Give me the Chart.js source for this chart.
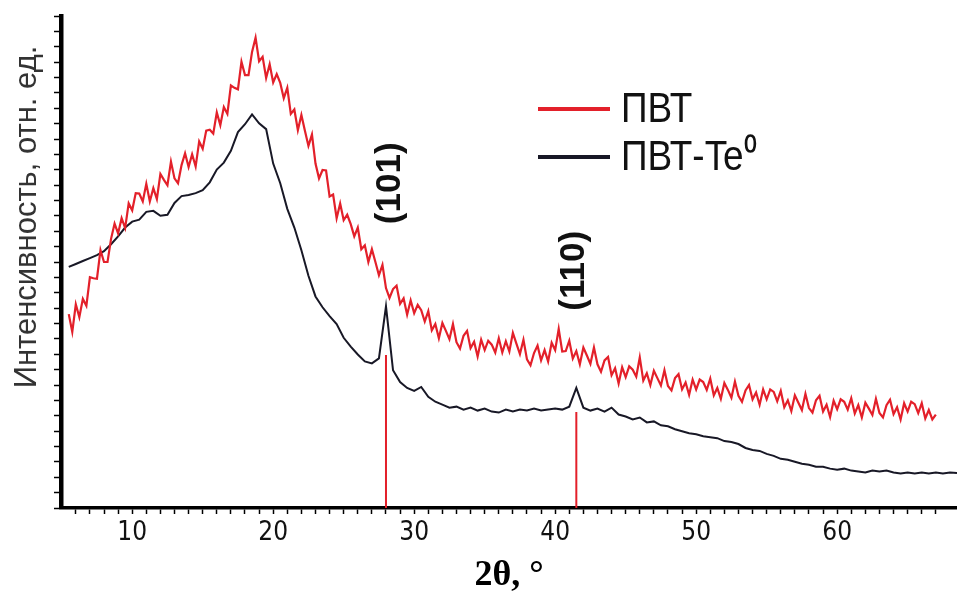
<!DOCTYPE html>
<html>
<head>
<meta charset="utf-8">
<script src="https://cdn.jsdelivr.net/npm/chart.js@4.4.1/dist/chart.umd.min.js"></script>
<style>
  html, body { margin: 0; padding: 0; background: #fff; }
  #xrd { display: block; }
</style>
</head>
<body>
<canvas id="xrd" width="957" height="597"></canvas>
<script>
const xrd = document.querySelector("#xrd")

// 2θ grid of the ПВТ scan, degrees
const pvtTheta = [
  5.5, 5.75, 6, 6.25, 6.5, 6.75, 7, 7.25,
  7.5, 7.75, 8, 8.25, 8.5, 8.75, 9, 9.25,
  9.5, 9.75, 10, 10.25, 10.5, 10.75, 11, 11.25,
  11.5, 11.75, 12, 12.25, 12.5, 12.75, 13, 13.25,
  13.5, 13.75, 14, 14.25, 14.5, 14.75, 15, 15.25,
  15.5, 15.75, 16, 16.25, 16.5, 16.75, 17, 17.25,
  17.5, 17.75, 18, 18.25, 18.5, 18.75, 19, 19.25,
  19.5, 19.75, 20, 20.25, 20.5, 20.75, 21, 21.25,
  21.5, 21.75, 22, 22.25, 22.5, 22.75, 23, 23.25,
  23.5, 23.75, 24, 24.25, 24.5, 24.75, 25, 25.25,
  25.5, 25.75, 26, 26.25, 26.5, 26.75, 27, 27.25,
  27.5, 27.75, 28, 28.25, 28.5, 28.75, 29, 29.25,
  29.5, 29.75, 30, 30.25, 30.5, 30.75, 31, 31.25,
  31.5, 31.75, 32, 32.25, 32.5, 32.75, 33, 33.25,
  33.5, 33.75, 34, 34.25, 34.5, 34.75, 35, 35.25,
  35.5, 35.75, 36, 36.25, 36.5, 36.75, 37, 37.25,
  37.5, 37.75, 38, 38.25, 38.5, 38.75, 39, 39.25,
  39.5, 39.75, 40, 40.25, 40.5, 40.75, 41, 41.25,
  41.5, 41.75, 42, 42.25, 42.5, 42.75, 43, 43.25,
  43.5, 43.75, 44, 44.25, 44.5, 44.75, 45, 45.25,
  45.5, 45.75, 46, 46.25, 46.5, 46.75, 47, 47.25,
  47.5, 47.75, 48, 48.25, 48.5, 48.75, 49, 49.25,
  49.5, 49.75, 50, 50.25, 50.5, 50.75, 51, 51.25,
  51.5, 51.75, 52, 52.25, 52.5, 52.75, 53, 53.25,
  53.5, 53.75, 54, 54.25, 54.5, 54.75, 55, 55.25,
  55.5, 55.75, 56, 56.25, 56.5, 56.75, 57, 57.25,
  57.5, 57.75, 58, 58.25, 58.5, 58.75, 59, 59.25,
  59.5, 59.75, 60, 60.25, 60.5, 60.75, 61, 61.25,
  61.5, 61.75, 62, 62.25, 62.5, 62.75, 63, 63.25,
  63.5, 63.75, 64, 64.25, 64.5, 64.75, 65, 65.25,
  65.5, 65.75, 66, 66.25, 66.5, 66.75, 67
]

// ПВТ, intensity (arb. units)
const pvt = [
  39.4, 35.8, 41.4, 38.8, 42.5, 41.1, 46.9, 46.7,
  46.6, 52.4, 50.0, 50.0, 54.7, 57.8, 55.8, 58.9,
  56.9, 61.9, 60.5, 64.0, 63.9, 62.3, 65.9, 62.3,
  65.0, 62.8, 67.9, 66.7, 65.6, 70.4, 67.0, 66.0,
  69.7, 72.1, 69.3, 71.9, 69.4, 74.5, 73.0, 76.7,
  76.9, 76.1, 80.4, 77.8, 81.5, 80.1, 85.9, 85.4,
  85.1, 90.7, 88.0, 88.0, 92.7, 95.6, 90.8, 91.7,
  87.4, 90.2, 86.5, 88.2, 86.4, 83.3, 85.4, 80.1,
  81.0, 76.8, 79.9, 76.7, 73.6, 75.9, 70.0, 67.0,
  68.7, 68.6, 63.3, 63.7, 58.9, 61.9, 58.5, 59.6,
  57.7, 55.2, 57.0, 52.6, 53.4, 50.0, 52.6, 50.0,
  47.3, 49.4, 44.7, 42.7, 44.5, 45.2, 41.5, 42.6,
  39.3, 42.2, 39.6, 41.3, 40.2, 37.9, 40.0, 36.1,
  37.4, 34.5, 37.6, 36.0, 34.3, 37.4, 33.7, 32.4,
  35.0, 36.0, 32.5, 33.8, 30.8, 34.2, 32.1, 34.0,
  33.2, 31.6, 34.5, 31.6, 33.9, 31.8, 35.6, 33.4,
  31.3, 34.2, 30.2, 29.0, 31.5, 33.0, 30.0, 32.1,
  29.8, 33.6, 32.1, 36.4, 31.8, 31.9, 34.0, 30.4,
  31.9, 29.2, 32.6, 31.0, 29.3, 32.6, 29.2, 27.7,
  30.0, 30.7, 27.0, 28.4, 25.3, 28.6, 26.6, 28.8,
  28.1, 26.7, 30.6, 25.9, 27.4, 25.0, 27.9, 26.4,
  24.9, 28.0, 24.8, 23.9, 26.4, 27.2, 24.1, 25.5,
  23.0, 26.1, 24.1, 26.1, 25.6, 24.0, 26.3, 22.9,
  24.4, 22.2, 25.4, 24.0, 22.4, 25.7, 22.8, 21.6,
  23.9, 25.0, 22.1, 23.5, 21.0, 24.1, 22.1, 24.1,
  23.6, 21.7, 23.8, 20.5, 21.9, 19.7, 22.9, 21.4,
  19.9, 23.2, 20.3, 19.4, 21.9, 22.8, 19.6, 21.0,
  18.5, 21.8, 20.1, 22.1, 21.6, 20.0, 22.3, 19.2,
  20.9, 18.4, 21.4, 20.2, 18.9, 22.2, 19.3, 18.4,
  20.9, 22.0, 19.1, 20.5, 18.0, 21.3, 19.6, 21.6,
  21.1, 19.3, 21.3, 18.2, 19.9, 18.0, 19.0
]

// 2θ grid of the ПВТ-Te0 scan, degrees
const pvtTeTheta = [
  5.5, 6, 6.5, 7, 7.5, 8, 8.5, 9, 9.5, 10,
  10.5, 11, 11.5, 12, 12.5, 13, 13.5, 14, 14.5, 15,
  15.5, 16, 16.5, 17, 17.5, 18, 18.5, 19, 19.5, 20,
  20.5, 21, 21.5, 22, 22.5, 23, 23.5, 24, 24.5, 25,
  25.5, 26, 26.5, 27, 27.5, 28, 28.5, 29, 29.5, 30,
  30.5, 31, 31.5, 32, 32.5, 33, 33.5, 34, 34.5, 35,
  35.5, 36, 36.5, 37, 37.5, 38, 38.5, 39, 39.5, 40,
  40.5, 41, 41.5, 42, 42.5, 43, 43.5, 44, 44.5, 45,
  45.5, 46, 46.5, 47, 47.5, 48, 48.5, 49, 49.5, 50,
  50.5, 51, 51.5, 52, 52.5, 53, 53.5, 54, 54.5, 55,
  55.5, 56, 56.5, 57, 57.5, 58, 58.5, 59, 59.5, 60,
  60.5, 61, 61.5, 62, 62.5, 63, 63.5, 64, 64.5, 65,
  65.5, 66, 66.5, 67, 67.5, 68, 68.5
]

// ПВТ-Te0, intensity (arb. units)
const pvtTe = [
  49.0, 49.6, 50.2, 50.8, 51.4, 52.2, 53.6, 55.2, 57.0, 58.2,
  58.6, 60.2, 60.4, 59.4, 59.6, 62.0, 63.4, 63.6, 64.0, 64.6,
  66.2, 68.8, 70.2, 72.6, 76.4, 78.0, 80.0, 78.2, 77.0, 70.0,
  66.0, 60.8, 57.0, 52.4, 47.2, 43.0, 40.8, 39.0, 37.4, 34.6,
  32.8, 31.2, 29.8, 29.4, 30.4, 41.0, 28.0, 25.6, 24.4, 23.8,
  24.6, 22.6, 21.6, 21.0, 20.4, 20.6, 20.0, 20.4, 19.8, 20.2,
  19.6, 19.4, 20.0, 19.6, 20.0, 19.8, 20.2, 19.8, 20.0, 20.2,
  20.0, 20.6, 24.4, 20.4, 19.8, 20.2, 19.6, 20.4, 19.0, 18.6,
  18.0, 18.4, 17.4, 17.6, 16.8, 16.6, 16.0, 15.6, 15.2, 15.0,
  14.6, 14.4, 14.2, 13.6, 13.4, 13.0, 12.2, 11.8, 11.6, 11.0,
  10.6, 10.0, 9.8, 9.4, 9.0, 8.8, 8.4, 8.4, 8.0, 7.8,
  8.0, 7.6, 7.4, 7.2, 7.6, 7.4, 7.6, 7.2, 7.0, 7.2,
  7.0, 7.2, 7.0, 7.2, 7.0, 7.2, 7.1
]

// reference reflections of Te
const peakLabels = ["(101)", "(110)"]
const peakPos = [28.0, 41.5]
const peakHeight = [31.1, 19.5]

const seriesNames = ["ПВТ", "ПВТ-Te⁰"]
const xTickLabels = [10, 20, 30, 40, 50, 60]
const yTitle = "Интенсивность, отн. ед."
const xTitle = "2θ, °"

const toPoints = (xs, vals) => vals.map((v, i) => ({ x: xs[i], y: v }))

const stickPoints = []
peakPos.forEach((p, i) => {
  stickPoints.push({ x: p, y: 0 }, { x: p, y: peakHeight[i] }, { x: p, y: null })
})

const RED = "#e3202a"
const BLACK = "#181826"

const overlay = {
  id: "overlay",
  afterDraw(chart) {
    const { ctx, scales: { x, y } } = chart

    // y axis title
    ctx.save()
    ctx.translate(27, 217)
    ctx.rotate(-Math.PI / 2)
    ctx.font = '31px "Liberation Sans", Arial, sans-serif'
    ctx.fillStyle = "#333"
    ctx.textAlign = "center"
    ctx.textBaseline = "middle"
    ctx.fillText(yTitle, 0, 0)
    ctx.restore()

    // hkl labels
    const labelAt = [66, 48.2]
    const labelDx = [4, -2]
    peakLabels.forEach((t, i) => {
      ctx.save()
      ctx.translate(x.getPixelForValue(peakPos[i]) + labelDx[i], y.getPixelForValue(labelAt[i]))
      ctx.rotate(-Math.PI / 2)
      ctx.font = 'bold 35px "Liberation Sans", Arial, sans-serif'
      ctx.fillStyle = "#111"
      ctx.textAlign = "center"
      ctx.textBaseline = "middle"
      ctx.fillText(t, 0, 0)
      ctx.restore()
    })

    // legend
    const rows = [109, 157]
    chart.data.datasets.slice(0, 2).forEach((ds, i) => {
      ctx.save()
      ctx.strokeStyle = ds.borderColor
      ctx.lineWidth = 4
      ctx.beginPath()
      ctx.moveTo(538, rows[i])
      ctx.lineTo(610, rows[i])
      ctx.stroke()
      ctx.translate(621, rows[i] + 1)
      ctx.scale(0.88, 1)
      ctx.font = '42px "Liberation Sans", Arial, sans-serif'
      ctx.fillStyle = "#111"
      ctx.textAlign = "left"
      ctx.textBaseline = "middle"
      ctx.fillText(ds.label, 0, 0)
      ctx.restore()
    })
  }
}

const chart = new Chart(xrd, {
  type: "line",
  plugins: [overlay],
  data: {
    datasets: [
      {
        label: seriesNames[0],
        data: toPoints(pvtTheta, pvt),
        borderColor: RED,
        borderWidth: 2.2,
        pointRadius: 0,
        tension: 0,
      },
      {
        label: seriesNames[1],
        data: toPoints(pvtTeTheta, pvtTe),
        borderColor: BLACK,
        borderWidth: 2,
        pointRadius: 0,
        tension: 0,
      },
      {
        label: "refs",
        data: stickPoints,
        borderColor: RED,
        borderWidth: 2,
        pointRadius: 0,
        spanGaps: false,
      },
    ]
  },
  options: {
    responsive: false,
    animation: false,
    devicePixelRatio: 1,
    layout: {
      padding: { top: 16, right: 0, left: 0, bottom: 0 }
    },
    scales: {
      x: {
        type: "linear",
        min: 4.95,
        max: 68.5,
        afterFit: (s) => { s.height = 89 },
        afterBuildTicks: (s) => {
          s.ticks = s.ticks.filter((t) => Number.isInteger(t.value))
        },
        border: { display: true, color: "#000", width: 3.5 },
        grid: {
          drawOnChartArea: false,
          drawTicks: true,
          tickLength: 6,
          tickColor: "#000",
          tickWidth: 1.5,
        },
        ticks: {
          stepSize: 1,
          autoSkip: false,
          maxRotation: 0,
          padding: 4,
          color: "#111",
          font: { family: '"DejaVu Sans Condensed", "DejaVu Sans", sans-serif', size: 26 },
          callback: (v) => xTickLabels.includes(v) ? String(v) : "",
        },
        title: {
          display: true,
          text: xTitle,
          color: "#000",
          padding: { top: 0, bottom: 0 },
          font: { family: '"Liberation Serif", "Times New Roman", serif', size: 36, weight: "bold" },
        },
      },
      y: {
        min: 0,
        max: 100,
        afterFit: (s) => { s.width = 61 },
        border: { display: true, color: "#000", width: 4.5 },
        grid: {
          drawOnChartArea: false,
          drawTicks: true,
          tickLength: 7,
          tickColor: "#000",
          tickWidth: 1.5,
        },
        ticks: {
          stepSize: 3.125,
          display: false,
        },
      }
    },
    plugins: {
      legend: { display: false },
      tooltip: { enabled: false },
    },
  },
})
</script>
</body>
</html>
